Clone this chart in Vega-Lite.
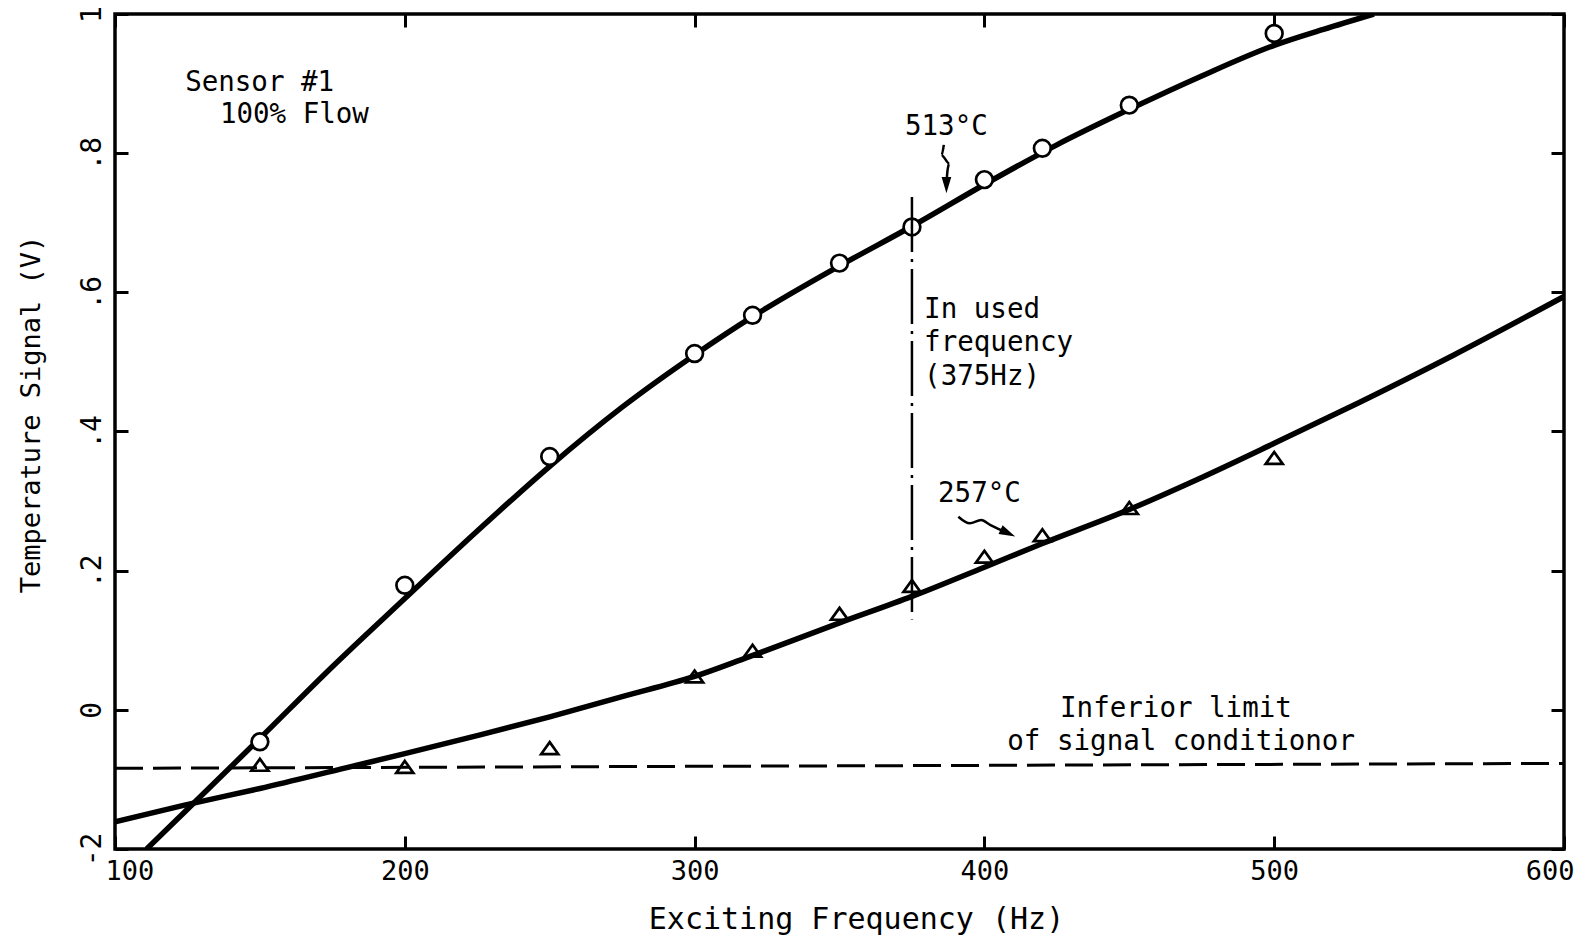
{
  "$schema": "https://vega.github.io/schema/vega-lite/v6.json",
  "width": 1449,
  "height": 835,
  "autosize": {"type": "none"},
  "padding": {"left": 115, "top": 14, "right": 14, "bottom": 90},
  "background": "white",
  "config": {
    "view": {"stroke": "black", "strokeWidth": 3.5},
    "text": {"font": "DejaVu Sans Mono", "color": "black"},
    "axis": {
      "labelFont": "DejaVu Sans Mono",
      "titleFont": "DejaVu Sans Mono",
      "labelColor": "black",
      "titleColor": "black",
      "tickColor": "black",
      "grid": false,
      "domain": false
    }
  },
  "datasets": {
    "curve513": [
      {"f": 110.9, "v": -0.2}, {"f": 125, "v": -0.143}, {"f": 150, "v": -0.041},
      {"f": 175, "v": 0.062}, {"f": 200, "v": 0.160}, {"f": 225, "v": 0.257},
      {"f": 250, "v": 0.350}, {"f": 275, "v": 0.435}, {"f": 300, "v": 0.510},
      {"f": 320, "v": 0.565}, {"f": 350, "v": 0.638}, {"f": 375, "v": 0.695},
      {"f": 400, "v": 0.755}, {"f": 425, "v": 0.812}, {"f": 450, "v": 0.863},
      {"f": 475, "v": 0.911}, {"f": 500, "v": 0.955}, {"f": 517, "v": 0.978},
      {"f": 534.4, "v": 1.0}
    ],
    "curve257": [
      {"f": 100, "v": -0.161}, {"f": 124, "v": -0.137}, {"f": 150, "v": -0.113},
      {"f": 180, "v": -0.083}, {"f": 200, "v": -0.063}, {"f": 226, "v": -0.036},
      {"f": 250, "v": -0.010}, {"f": 275, "v": 0.019}, {"f": 300, "v": 0.048},
      {"f": 318, "v": 0.075}, {"f": 350, "v": 0.125}, {"f": 375, "v": 0.163},
      {"f": 400, "v": 0.205}, {"f": 420, "v": 0.239}, {"f": 450, "v": 0.288},
      {"f": 475, "v": 0.334}, {"f": 500, "v": 0.383}, {"f": 529, "v": 0.441},
      {"f": 562, "v": 0.510}, {"f": 600, "v": 0.594}
    ],
    "limit": [{"f": 100, "v": -0.084}, {"f": 600, "v": -0.077}],
    "used": [{"f": 375, "v": 0.737}, {"f": 375, "v": 0.130}],
    "pts513": [
      {"f": 150, "v": -0.046}, {"f": 200, "v": 0.179}, {"f": 250, "v": 0.364},
      {"f": 300, "v": 0.512}, {"f": 320, "v": 0.567}, {"f": 350, "v": 0.642},
      {"f": 375, "v": 0.694}, {"f": 400, "v": 0.762}, {"f": 420, "v": 0.807},
      {"f": 450, "v": 0.869}, {"f": 500, "v": 0.972}
    ],
    "pts257": [
      {"f": 150, "v": -0.079}, {"f": 200, "v": -0.082}, {"f": 250, "v": -0.055},
      {"f": 300, "v": 0.048}, {"f": 320, "v": 0.085}, {"f": 350, "v": 0.138},
      {"f": 375, "v": 0.178}, {"f": 400, "v": 0.220}, {"f": 420, "v": 0.251},
      {"f": 450, "v": 0.290}, {"f": 500, "v": 0.362}
    ],
    "labels": [
      {"f": 124.2, "v": 0.889, "t": "Sensor #1"},
      {"f": 136.2, "v": 0.844, "t": "100% Flow"},
      {"f": 372.6, "v": 0.826, "t": "513°C"},
      {"f": 379.2, "v": 0.563, "t": "In used"},
      {"f": 379.2, "v": 0.515, "t": "frequency"},
      {"f": 379.2, "v": 0.467, "t": "(375Hz)"},
      {"f": 384.0, "v": 0.299, "t": "257°C"},
      {"f": 426.1, "v": -0.010, "t": "Inferior limit"},
      {"f": 407.9, "v": -0.058, "t": "of signal conditionor"}
    ],
    "arrows": [
      {"a": "513", "o": 1, "f": 386.0, "v": 0.812},
      {"a": "513", "o": 2, "f": 385.2, "v": 0.797},
      {"a": "513", "o": 3, "f": 387.9, "v": 0.785},
      {"a": "513", "o": 4, "f": 387.3, "v": 0.776},
      {"a": "513", "o": 5, "f": 386.9, "v": 0.756},
      {"a": "257", "o": 1, "f": 391.0, "v": 0.2775},
      {"a": "257", "o": 2, "f": 395.0, "v": 0.268},
      {"a": "257", "o": 3, "f": 398.9, "v": 0.2728},
      {"a": "257", "o": 4, "f": 402.1, "v": 0.2656},
      {"a": "257", "o": 5, "f": 406.0, "v": 0.258}
    ],
    "heads": [
      {"f": 386.9, "v": 0.754, "ang": 0},
      {"f": 408.1, "v": 0.254, "ang": 295}
    ]
  },
  "resolve": {"axis": {"x": "independent", "y": "independent"}},
  "layer": [
    {
      "data": {"name": "curve513"},
      "mark": {"type": "line", "color": "black", "strokeWidth": 5.5, "interpolate": "monotone", "clip": true},
      "encoding": {
        "x": {
          "field": "f", "type": "quantitative",
          "scale": {"domain": [100, 600], "nice": false, "zero": false},
          "axis": {
            "orient": "bottom",
            "values": [100, 200, 300, 400, 500, 600],
            "tickSize": -13, "tickWidth": 3,
            "labelFontSize": 27, "labelPadding": 22,
            "labelFlush": true, "labelFlushOffset": 10,
            "title": "Exciting Frequency (Hz)",
            "titleFontSize": 30, "titleFontWeight": "normal", "titlePadding": 20,
            "titleX": 741
          }
        },
        "y": {
          "field": "v", "type": "quantitative",
          "scale": {"domain": [-0.2, 1.0], "nice": false, "zero": false},
          "axis": {
            "orient": "left",
            "values": [-0.2, 0, 0.2, 0.4, 0.6, 0.8, 1.0],
            "tickSize": -13, "tickWidth": 3,
            "labelFontSize": 28, "labelAngle": 270,
            "labelAlign": "center", "labelBaseline": "alphabetic",
            "labelPadding": 28,
            "labelExpr": "datum.value == 0 ? '0' : datum.value == 1 ? '1' : datum.value < 0 ? '-2' : replace(format(datum.value, '.1f'), '0.', '.')",
            "title": "Temperature Signal (V)",
            "titleFontSize": 27, "titleFontWeight": "normal", "titlePadding": 33,
            "titleY": 400
          }
        },
        "order": {"field": "f", "type": "quantitative"}
      }
    },
    {
      "data": {"name": "curve257"},
      "mark": {"type": "line", "color": "black", "strokeWidth": 5.5, "interpolate": "monotone", "clip": true},
      "encoding": {
        "x": {"field": "f", "type": "quantitative", "axis": null},
        "y": {"field": "v", "type": "quantitative", "axis": null},
        "order": {"field": "f", "type": "quantitative"}
      }
    },
    {
      "data": {"name": "limit"},
      "mark": {"type": "line", "color": "black", "strokeWidth": 3, "strokeDash": [28, 10]},
      "encoding": {
        "x": {
          "field": "f", "type": "quantitative",
          "axis": {"orient": "top", "values": [100, 200, 300, 400, 500, 600], "tickSize": -13, "tickWidth": 3, "labels": false, "title": null}
        },
        "y": {
          "field": "v", "type": "quantitative",
          "axis": {"orient": "right", "values": [-0.2, 0, 0.2, 0.4, 0.6, 0.8, 1.0], "tickSize": -13, "tickWidth": 3, "labels": false, "title": null}
        }
      }
    },
    {
      "data": {"name": "pts513"},
      "mark": {"type": "point", "shape": "circle", "size": 280, "filled": false, "fill": "white", "fillOpacity": 1, "stroke": "black", "strokeWidth": 2.7, "opacity": 1},
      "encoding": {
        "x": {"field": "f", "type": "quantitative", "axis": null},
        "y": {"field": "v", "type": "quantitative", "axis": null}
      }
    },
    {
      "data": {"name": "used"},
      "mark": {"type": "line", "color": "black", "strokeWidth": 2.5, "strokeDash": [55, 7, 3, 7]},
      "encoding": {
        "x": {"field": "f", "type": "quantitative", "axis": null},
        "y": {"field": "v", "type": "quantitative", "axis": null}
      }
    },
    {
      "data": {"name": "pts257"},
      "mark": {"type": "point", "shape": "M0,-0.7L1,0.7L-1,0.7Z", "size": 290, "filled": false, "stroke": "black", "strokeWidth": 2.7, "opacity": 1},
      "encoding": {
        "x": {"field": "f", "type": "quantitative", "axis": null},
        "y": {"field": "v", "type": "quantitative", "axis": null}
      }
    },
    {
      "data": {"name": "arrows"},
      "mark": {"type": "line", "color": "black", "strokeWidth": 2.5, "interpolate": "monotone"},
      "encoding": {
        "x": {"field": "f", "type": "quantitative", "axis": null},
        "y": {"field": "v", "type": "quantitative", "axis": null},
        "detail": {"field": "a"},
        "order": {"field": "o", "type": "quantitative"}
      }
    },
    {
      "data": {"name": "heads"},
      "mark": {"type": "point", "shape": "M-0.6,-1L0.6,-1L0,1Z", "size": 260, "filled": true, "color": "black", "opacity": 1},
      "encoding": {
        "x": {"field": "f", "type": "quantitative", "axis": null},
        "y": {"field": "v", "type": "quantitative", "axis": null},
        "angle": {"field": "ang", "type": "quantitative", "scale": null}
      }
    },
    {
      "data": {"name": "labels"},
      "mark": {"type": "text", "align": "left", "baseline": "alphabetic", "fontSize": 27.5, "font": "DejaVu Sans Mono", "color": "black"},
      "encoding": {
        "x": {"field": "f", "type": "quantitative", "axis": null},
        "y": {"field": "v", "type": "quantitative", "axis": null},
        "text": {"field": "t"}
      }
    }
  ]
}
